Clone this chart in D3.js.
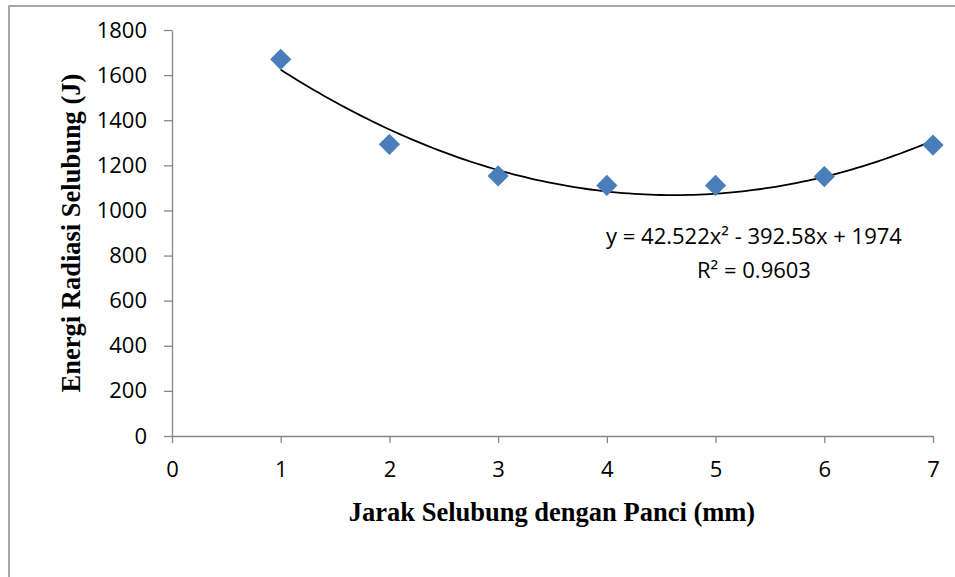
<!DOCTYPE html>
<html>
<head>
<meta charset="utf-8">
<script src="https://cdn.jsdelivr.net/npm/d3@7"></script>
<style>
  html, body { margin: 0; padding: 0; background: #fff; }
  svg { display: block; }
</style>
</head>
<body>
<div id="chart"></div>
<script>
// ---- data ----
const xValues = [1, 2, 3, 4, 5, 6, 7];
const energyValues = [1670, 1293, 1153, 1111, 1111, 1150, 1290];
const xTicks = [0, 1, 2, 3, 4, 5, 6, 7];
const yTicks = [0, 200, 400, 600, 800, 1000, 1200, 1400, 1600, 1800];
const trendCoefficients = [42.522, -392.58, 1974]; // a, b, c of the displayed polynomial trendline
const equationLines = ["y = 42.522x² - 392.58x + 1974", "R² = 0.9603"];
const xTitle = "Jarak Selubung dengan Panci (mm)";
const yTitle = "Energi Radiasi Selubung (J)";

// ---- layout ----
const W = 955, H = 577;
const plot = { left: 172, right: 933, top: 30, bottom: 436 };
const axisColor = "#868686";
const markerColor = "#4A7EBB";
const tickFont = "'Open Sans', 'Noto Sans', sans-serif";
const titleFont = "'Liberation Serif', 'Times New Roman', serif";

const svg = d3.select("#chart").append("svg")
  .attr("width", W).attr("height", H);

svg.append("rect").attr("width", W).attr("height", H).attr("fill", "#fff");

// chart frame
svg.append("rect")
  .attr("x", 9).attr("y", 6).attr("width", W + 20).attr("height", H + 20)
  .attr("fill", "none").attr("stroke", "#8c8c8c").attr("stroke-width", 1.5);

const x = d3.scaleLinear().domain([0, 7]).range([plot.left, plot.right]);
const y = d3.scaleLinear().domain([0, 1800]).range([plot.bottom, plot.top]);

// y axis
const yAxis = svg.append("g")
  .attr("transform", `translate(${plot.left},0)`)
  .call(d3.axisLeft(y).tickValues(yTicks).tickFormat(d3.format("d"))
    .tickSize(8).tickSizeOuter(0).tickPadding(17));
// x axis
const xAxis = svg.append("g")
  .attr("transform", `translate(0,${plot.bottom})`)
  .call(d3.axisBottom(x).tickValues(xTicks).tickFormat(d3.format("d"))
    .tickSize(7).tickSizeOuter(0).tickPadding(18));

[yAxis, xAxis].forEach(g => {
  g.selectAll("path.domain").attr("stroke", axisColor).attr("stroke-width", 1.3);
  g.selectAll(".tick line").attr("stroke", axisColor).attr("stroke-width", 1.3);
  g.selectAll(".tick text")
    .attr("fill", "#000")
    .style("font-family", tickFont)
    .style("font-size", "22px");
});

// trendline from displayed coefficients
const [a, b, c] = trendCoefficients;
const trendX = d3.range(1, 7.0001, 0.05);
const line = d3.line().x(d => x(d)).y(d => y(a * d * d + b * d + c));
svg.append("path")
  .datum(trendX)
  .attr("d", line)
  .attr("fill", "none")
  .attr("stroke", "#000")
  .attr("stroke-width", 1.8);

// markers (diamonds)
const diamond = d3.symbol().type(d3.symbolSquare).size(225);
svg.append("g").selectAll("path")
  .data(xValues.map((v, i) => [v, energyValues[i]]))
  .join("path")
  .attr("d", diamond)
  .attr("transform", d => `translate(${x(d[0])},${y(d[1])}) rotate(45)`)
  .attr("fill", markerColor);

// equation label
svg.append("g").selectAll("text")
  .data(equationLines)
  .join("text")
  .attr("x", 754)
  .attr("y", (d, i) => 244 + i * 34)
  .attr("text-anchor", "middle")
  .style("font-family", tickFont)
  .style("font-size", "22px")
  .attr("fill", "#000")
  .text(d => d);

// axis titles
svg.append("text")
  .attr("x", 552)
  .attr("y", 521)
  .attr("text-anchor", "middle")
  .style("font-family", titleFont)
  .style("font-weight", "bold")
  .style("font-size", "26.5px")
  .attr("fill", "#000")
  .text(xTitle);

svg.append("text")
  .attr("transform", `translate(80,233) rotate(-90)`)
  .attr("text-anchor", "middle")
  .style("font-family", titleFont)
  .style("font-weight", "bold")
  .style("font-size", "26.5px")
  .attr("fill", "#000")
  .text(yTitle);
</script>
</body>
</html>
